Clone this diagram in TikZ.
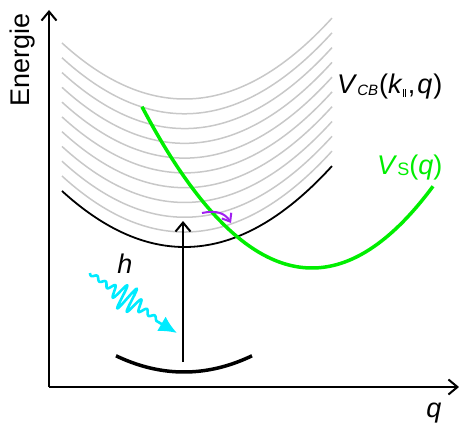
\documentclass[tikz,border=0pt]{standalone}
\usepackage{fontspec}
\setmainfont{Liberation Sans}
\usetikzlibrary{arrows.meta}
\definecolor{vsgreen}{RGB}{0,238,0}
\definecolor{phcyan}{RGB}{0,235,255}
\definecolor{hopviolet}{RGB}{160,32,240}
\definecolor{bandgray}{RGB}{200,200,200}
\newcommand\mysubsc[1]{\raisebox{-2.5pt}{\fontsize{15}{15}\selectfont #1}}
\newcommand\mysubs[1]{\raisebox{-1pt}{\fontsize{18}{18}\selectfont #1}}
\newcommand\mybars{\raisebox{-4pt}{\rule{0.9pt}{8pt}\hspace{1.3pt}\rule{0.9pt}{8pt}}}
\begin{document}
\begin{tikzpicture}[x=1pt,y=-1pt,
  lbl/.style={font=\fontsize{27}{32}\selectfont, inner sep=0pt},
  axis/.style={line width=2pt, -{Straight Barb[length=9pt,width=15pt]}},
  band/.style={bandgray, line width=1.5pt},
  cband/.style={black, line width=1.8pt},
  vsline/.style={vsgreen, line width=3.5pt},
  vband/.style={black, line width=3.5pt},
  exc/.style={line width=2pt, -{Straight Barb[length=9pt,width=15pt]}},
  hop/.style={hopviolet, line width=2pt, -{Straight Barb[length=7pt,width=11pt]}},
  photon/.style={phcyan, line width=2.6pt, -{Latex[length=18pt,width=17pt]}}]
\useasboundingbox (0,0) rectangle (459,423);
% axes
\coordinate (o) at (49,387);
\coordinate (ytip) at (49,10);
\coordinate (xtip) at (459,387);
\draw[axis] (o) -- (ytip);
\draw[axis] (o) -- (xtip);
% gray conduction subbands
\foreach \i in {0,...,9} {
  \pgfmathsetmacro\m{99+14.78*\i}
  \draw[band] plot[domain=62:332,samples=80] (\x,{\m-0.3726*((\x-184.6)/10)^2});
}
% lowest conduction band
\draw[cband] plot[domain=62:332,samples=80] (\x,{247-0.3726*((\x-184.6)/10)^2});
% surface potential
\draw[vsline] plot[domain=142:433,samples=80] (\x,{268-0.558*((\x-312)/10)^2});
% valence band
\draw[vband] plot[domain=116:252,samples=60] (\x,{372-0.35*((\x-184)/10)^2});
% excitation arrow
\coordinate (vb) at (183,362);
\coordinate (cb) at (183,221);
\draw[exc] (vb) -- (cb);
% hop arrow
\coordinate (hs) at (202,213);
\coordinate (he) at (231,223);
\draw[hop] (hs) .. controls (216,210) and (225,213) .. (he);
% photon
\coordinate (phtip) at (177,333);
\draw[photon] plot[domain=0:82,samples=260,smooth]
  ({90+0.823*\x-0.568*(1.8+12*exp(-((\x-45)/14)^2))*sin(\x*36)},
   {273+0.568*\x+0.823*(1.8+12*exp(-((\x-45)/14)^2))*sin(\x*36)}) -- (phtip);
% labels
\node[lbl, rotate=90] (en) at (23,60) {Energie};
\node[lbl, font=\fontsize{27}{32}\selectfont\itshape] (h) at (125,264) {h};
\node[lbl, anchor=base west] (vcb) at (337,93)
  {\textit{V}\mysubsc{\textit{CB}}\hspace{1pt}(\textit{k}\mybars\hspace{2pt},\hspace{2pt}\textit{q}\hspace{1pt})};
\node[lbl, anchor=base west, text=vsgreen] (vs) at (377,175)
  {\textit{V}\mysubs{S}(\textit{q})};
\node[lbl, anchor=base, font=\fontsize{27}{32}\selectfont\itshape] (ql) at (434,417) {q};
\end{tikzpicture}
\end{document}
